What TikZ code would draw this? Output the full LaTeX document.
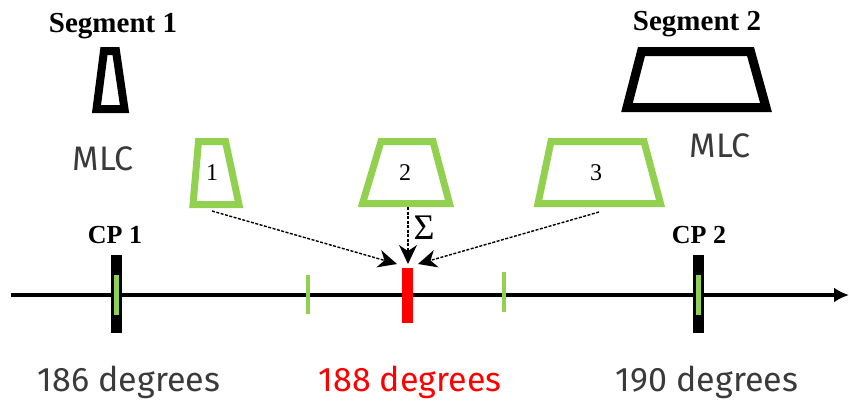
\documentclass[tikz,border=0pt]{standalone}
\usepackage{fontspec}
\setmainfont{Liberation Serif}
\newfontfamily\degfont{Fira Sans}
\usetikzlibrary{arrows.meta,calc}
\definecolor{leaf}{HTML}{92D050}
\definecolor{txtgray}{HTML}{3A3A3A}
\definecolor{hot}{HTML}{FF0000}
\begin{document}
\begin{tikzpicture}[x=1pt,y=-1pt,
  blacktrap/.style={draw=black,line join=miter},
  greentrap/.style={draw=leaf,line width=7pt,line join=miter},
  seglabel/.style={font=\fontsize{29}{32}\selectfont\bfseries,anchor=base,inner sep=0pt},
  cplabel/.style={font=\fontsize{26}{28}\selectfont\bfseries,anchor=base,inner sep=0pt},
  mlclabel/.style={font=\degfont\fontsize{34}{38}\selectfont,text=txtgray,anchor=base,inner sep=0pt},
  deglabel/.style={font=\degfont\fontsize{34}{38}\selectfont,anchor=base,inner sep=0pt},
  numlabel/.style={font=\fontsize{24}{26}\selectfont,inner sep=0pt},
  flow/.style={line width=1.4pt,dash pattern=on 3pt off 1.5pt},
  headfill/.style={fill=black,draw=none},
  cpbar/.style={line width=11pt,draw=black},
  cpinner/.style={line width=5pt,draw=leaf},
  tick/.style={line width=4pt,draw=leaf},
]
\useasboundingbox (0,0) rectangle (849,400);

% segment labels and black MLC shapes
\node[seglabel] (seg1) at (113,32) {Segment 1};
\node[seglabel] (seg2) at (697,30) {Segment 2};
\draw[blacktrap,line width=8pt] (104,51) -- (116,51) -- (124.5,109) -- (96.5,109) -- cycle;
\draw[blacktrap,line width=9pt] (641.5,51.5) -- (750.5,51.5) -- (766,107.5) -- (627,107.5) -- cycle;
\node[mlclabel] (mlc1) at (103,170) {MLC};
\node[mlclabel] (mlc2) at (720,157) {MLC};

% green intermediate shapes
\draw[greentrap] (198.5,141.5) -- (225.5,141.5) -- (239,204.5) -- (193,204.5) -- cycle;
\draw[greentrap] (381,141.5) -- (433,141.5) -- (449.5,203.5) -- (362.5,203.5) -- cycle;
\draw[greentrap] (551,141.5) -- (644,141.5) -- (660.5,203.5) -- (538,203.5) -- cycle;
\node[numlabel] (t1) at (212,173) {1};
\node[numlabel] (t2) at (405,173) {2};
\node[numlabel] (t3) at (596,173) {3};

% axis
\coordinate (axL) at (11,295);
\coordinate (axR) at (849,295);
\draw[line width=3.5pt,-{Latex[length=15pt,width=15pt]}] (axL) -- (axR);

% ticks
\draw[cpbar] (116.5,255) -- (116.5,333);
\draw[cpinner] (116.5,275) -- (116.5,315);
\draw[cpbar] (698,255) -- (698,333);
\draw[cpinner] (698,275) -- (698,315);
\draw[tick] (307.5,275) -- (307.5,314);
\draw[tick] (503.5,272) -- (503.5,312);
\draw[line width=11pt,draw=hot] (407.5,268) -- (407.5,323);

% arrows (dashed shafts with solid stealth heads)
\coordinate (s1) at (212,211);
\coordinate (s2) at (408,207);
\coordinate (s3) at (599,212);
\coordinate (e1) at (397,264);
\coordinate (e2) at (408,264);
\coordinate (e3) at (418,264);
\foreach \s/\e in {s1/e1,s2/e2,s3/e3}{
  \draw[flow] (\s) -- ($(\e)!12pt!(\s)$);
  \fill[headfill] (\e) -- ($(\e)!21pt!25.35:(\s)$) -- ($(\e)!13pt!(\s)$)
     -- ($(\e)!21pt!-25.35:(\s)$) -- cycle;
}
\node[font=\fontsize{36}{38}\selectfont,inner sep=0pt] (sig) at (424,228) {Σ};

% CP labels
\node[cplabel] (cp1) at (115,243) {CP 1};
\node[cplabel] (cp2) at (699,243) {CP 2};

% degree labels
\node[deglabel,text=txtgray] (d186) at (129,391) {186 degrees};
\node[deglabel,text=hot] (d188) at (410,391) {188 degrees};
\node[deglabel,text=txtgray] (d190) at (707,391) {190 degrees};
\end{tikzpicture}
\end{document}
